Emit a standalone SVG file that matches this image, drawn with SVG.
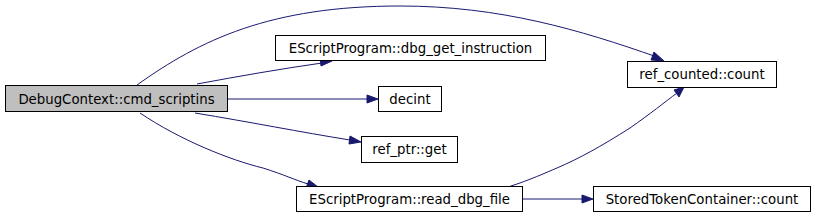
<svg xmlns="http://www.w3.org/2000/svg" width="816" height="219" viewBox="0 0 816 219">
<style>
.n rect{fill:#ffffff;stroke:#000000;stroke-width:1}
.n.root rect{fill:#bfbfbf}
.n text{font-family:"DejaVu Sans",sans-serif;font-size:13.3px;fill:#000000;text-anchor:middle}
.e path{fill:none;stroke:#191970;stroke-width:1}
.e polygon{fill:#191970;stroke:#191970;stroke-width:1}
</style>
<rect width="816" height="219" fill="#ffffff"/>
<g id="connectors" class="e">
<path d="M137,85 C200,40 270,6 400,6 C500,6 580,30 657,57"/>
<polygon points="654,52 664,61 651,60"/>
<path d="M197,84 C240,76 280,69 322,63"/>
<polygon points="320,58 332,61 321,66"/>
<path d="M227,99 L368,99"/>
<polygon points="367,95 378,99 367,103"/>
<path d="M195,113 C250,122 300,132 350,140"/>
<polygon points="350,136 361,142 349,144"/>
<path d="M140,113 C180,140 230,160 263,168 C285,175 295,180 308,184"/>
<polygon points="309,180 318,187 306,188"/>
<path d="M508,187 C530,180 545,173 557,168 C580,158 600,147 630,128 C650,114 665,102 677,93"/>
<polygon points="674,90 684,87 679,97"/>
<path d="M523,199 L583,199"/>
<polygon points="582,195 593,199 582,203"/>
</g>
<g id="node-cmd_scriptins" class="n root">
<rect x="5.5" y="85.5" width="222" height="26"/>
<text x="116.5" y="103.5">DebugContext::cmd_scriptins</text>
</g>
<g id="node-dbg_get_instruction" class="n">
<rect x="275.5" y="35.5" width="270" height="25"/>
<text x="410.5" y="52.5">EScriptProgram::dbg_get_instruction</text>
</g>
<g id="node-decint" class="n">
<rect x="378.5" y="86.5" width="63" height="25"/>
<text x="410" y="103.5">decint</text>
</g>
<g id="node-ref_ptr_get" class="n">
<rect x="361.5" y="136.5" width="96" height="26"/>
<text x="409.5" y="154">ref_ptr::get</text>
</g>
<g id="node-read_dbg_file" class="n">
<rect x="296.5" y="186.5" width="226" height="25"/>
<text x="409.5" y="203.5">EScriptProgram::read_dbg_file</text>
</g>
<g id="node-ref_counted_count" class="n">
<rect x="627.5" y="61.5" width="149" height="26"/>
<text x="702" y="79">ref_counted::count</text>
</g>
<g id="node-stored_count" class="n">
<rect x="593.5" y="186.5" width="217" height="25"/>
<text x="702" y="203.5">StoredTokenContainer::count</text>
</g>
</svg>
